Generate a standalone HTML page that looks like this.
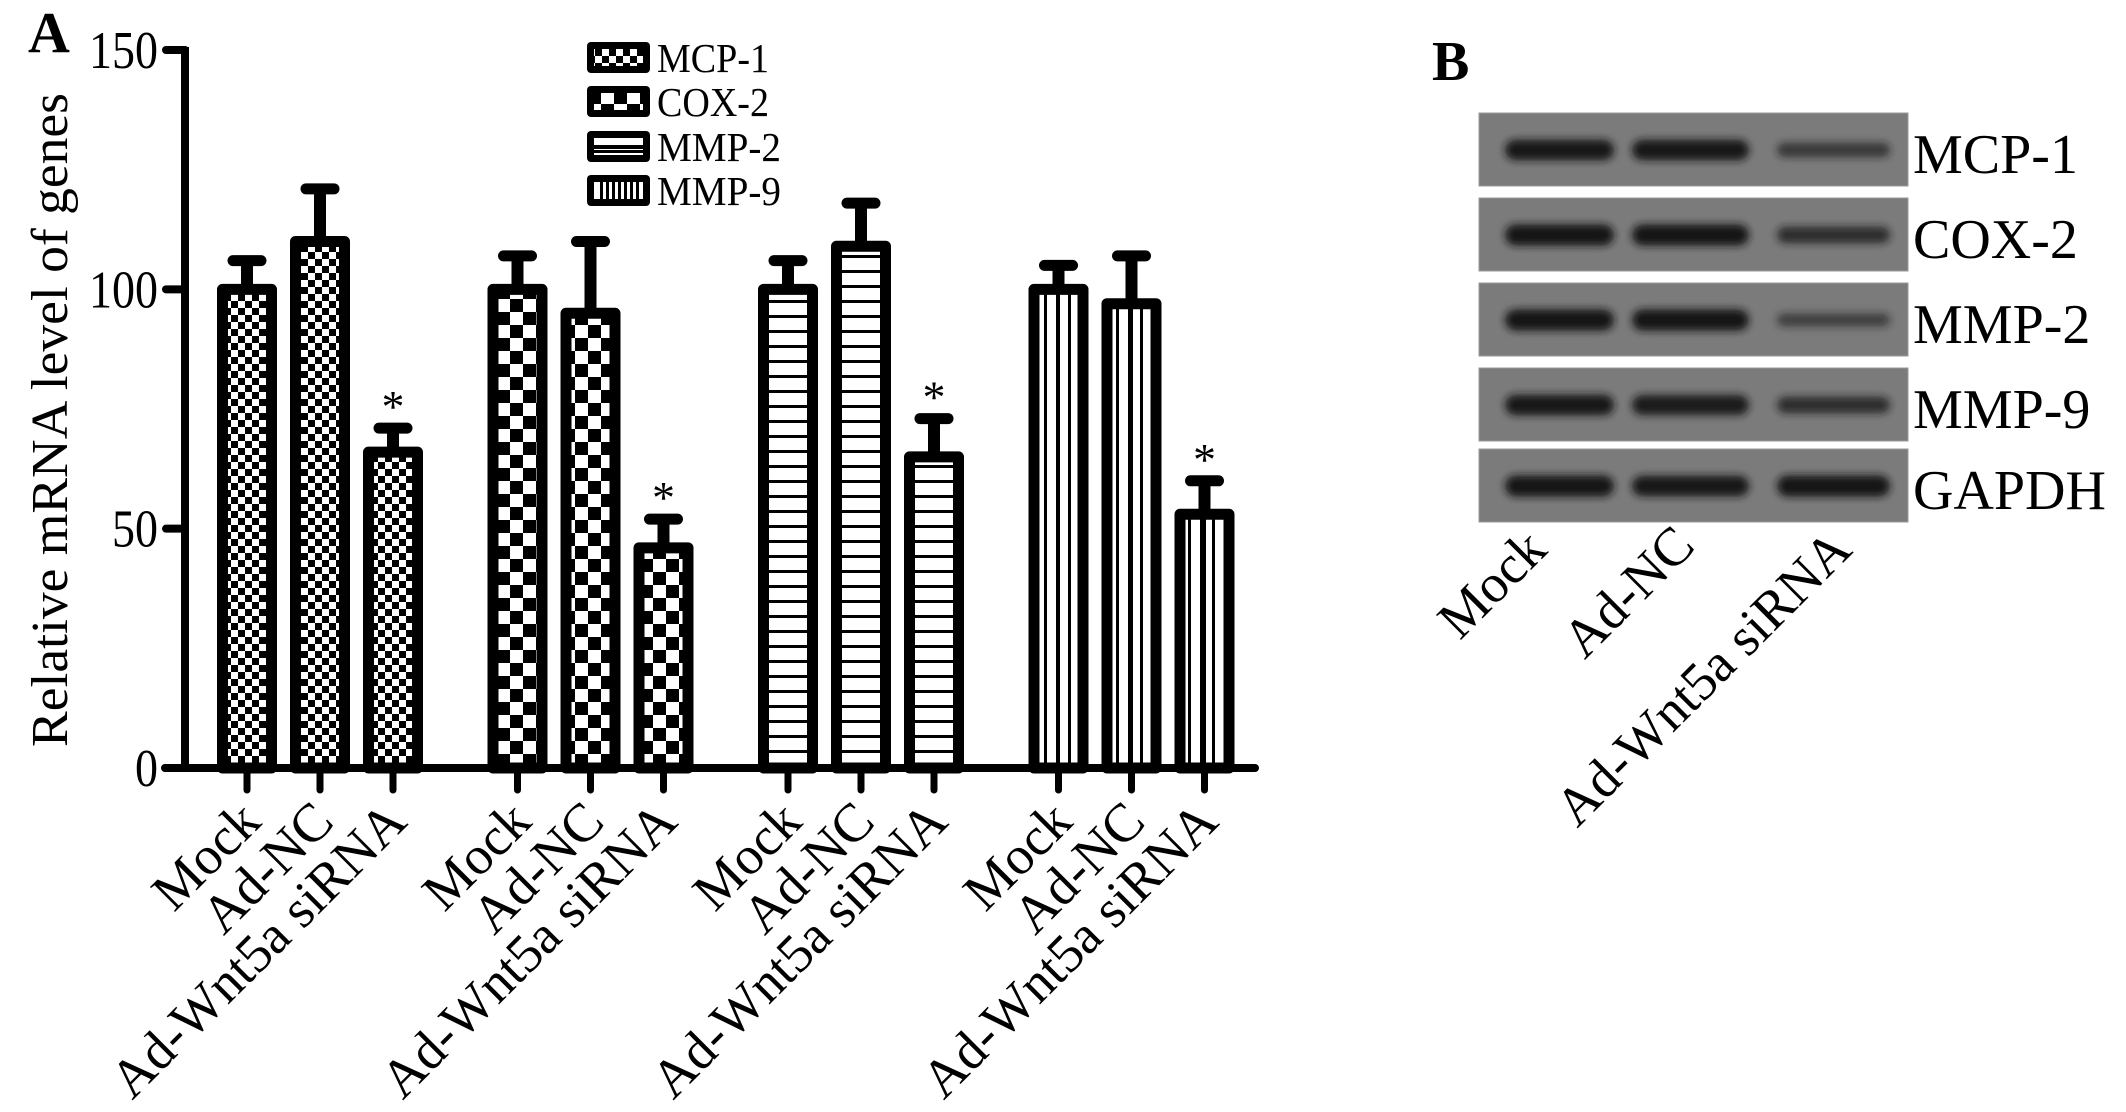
<!DOCTYPE html>
<html><head><meta charset="utf-8">
<style>
html,body{margin:0;padding:0;background:#fff;}
svg{display:block;font-family:"Liberation Serif",serif;}
</style></head>
<body>
<svg id="fig" width="2126" height="1112" viewBox="0 0 2126 1112" xmlns="http://www.w3.org/2000/svg">
<defs>
  <pattern id="p-mcp" patternUnits="userSpaceOnUse" width="14" height="14">
    <rect width="14" height="14" fill="#fff"/><rect width="7" height="7" fill="#000"/><rect x="7" y="7" width="7" height="7" fill="#000"/>
  </pattern>
  <pattern id="p-cox" patternUnits="userSpaceOnUse" width="26" height="26" x="3">
    <rect width="26" height="26" fill="#fff"/><rect width="13" height="13" fill="#000"/><rect x="13" y="13" width="13" height="13" fill="#000"/>
  </pattern>
  <pattern id="p-mmp2" patternUnits="userSpaceOnUse" width="10" height="15">
    <rect width="10" height="15" fill="#fff"/><rect y="0" width="10" height="3" fill="#000"/>
  </pattern>
  <pattern id="p-mmp9" patternUnits="userSpaceOnUse" width="12" height="10">
    <rect width="12" height="10" fill="#fff"/><rect x="0" width="3" height="10" fill="#000"/>
  </pattern>
  <filter id="blur" x="-20%" y="-100%" width="140%" height="300%"><feGaussianBlur stdDeviation="4"/></filter>
</defs>
<g id="chartA"></g>
<g id="panelB"></g>
</svg>
<script>
const genes = ["MCP-1","COX-2","MMP-2","MMP-9"];
const groups = ["Mock","Ad-NC","Ad-Wnt5a siRNA"];
const mcp1 = [100, 110, 66];
const cox2 = [100, 95, 46];
const mmp2 = [100, 109, 65];
const mmp9 = [100, 97, 53];
const mcp1Err = [6, 11, 5];
const cox2Err = [7, 15, 6];
const mmp2Err = [6, 9, 8];
const mmp9Err = [5, 10, 7];
const significant = [false, false, true];
const yTicks = [0, 50, 100, 150];
const blotRows = ["MCP-1","COX-2","MMP-2","MMP-9","GAPDH"];
const bandMock = [0.9, 0.95, 0.95, 0.9, 0.95];
const bandNC = [0.9, 0.95, 0.95, 0.85, 0.9];
const bandSi = [0.45, 0.6, 0.35, 0.6, 0.95];

const NS = "http://www.w3.org/2000/svg";
function mk(tag, attrs, parent, text){
  const e = document.createElementNS(NS, tag);
  for (const k in attrs) e.setAttribute(k, attrs[k]);
  if (text !== undefined) e.textContent = text;
  parent.appendChild(e);
  return e;
}
const A = document.getElementById("chartA");
const y0 = 768, y150 = 50;
const yS = v => y0 - (y0 - y150) * v / 150;
const xS = (g, i) => 247 + g * 270.5 + i * 73;

// panel label
let t = mk("text", {x:28, y:52, "font-size":58, "font-weight":"bold"}, A, "A");



// y axis title
t = mk("text", {x:0, y:0, "font-size":52, "text-anchor":"middle", textLength:654, lengthAdjust:"spacingAndGlyphs", transform:"translate(67,420) rotate(-90)"}, A, "Relative mRNA level of genes");



// axes
let ax = mk("line", {x1:185, y1:yS(150)-3, x2:185, y2:y0+3, stroke:"#000", "stroke-width":8}, A);


ax = mk("line", {x1:165, y1:y0, x2:1255, y2:y0, stroke:"#000", "stroke-width":8, "stroke-linecap":"round"}, A);



yTicks.forEach(v => {
  const tk = mk("line", {x1:166, y1:yS(v), x2:185, y2:yS(v), stroke:"#000", "stroke-width":8, "stroke-linecap":"round"}, A);
  
  
  const lb = mk("text", {x:158, y:yS(v)+18, "font-size":53, "text-anchor":"end", textLength: String(v).length*23, lengthAdjust:"spacingAndGlyphs"}, A, String(v));
  
  
});

const series = [mcp1, cox2, mmp2, mmp9];
const errs = [mcp1Err, cox2Err, mmp2Err, mmp9Err];
const pats = ["p-mcp","p-cox","p-mmp2","p-mmp9"];
const bw = 49;
series.forEach((vals, g) => {
  vals.forEach((v, i) => {
    const cx = xS(g, i);
    const top = yS(v), errTop = yS(v + errs[g][i]);
    const stem = mk("line", {x1:cx, y1:top, x2:cx, y2:errTop, stroke:"#000", "stroke-width":12}, A);
    
    
    const cap = mk("line", {x1:cx-14, y1:errTop, x2:cx+14, y2:errTop, stroke:"#000", "stroke-width":11, "stroke-linecap":"round"}, A);
    
    
    const r = mk("rect", {x:cx-bw/2, y:top, width:bw, height:y0-top, fill:"url(#"+pats[g]+")", stroke:"#000", "stroke-width":11, "stroke-linejoin":"round"}, A);
    
    
    if (g === 3) {
      const ml = mk("line", {x1:cx, y1:top+5, x2:cx, y2:y0-4, stroke:"#000", "stroke-width":3}, A);
      
      
    }
    if (significant[i]) {
      const st = mk("text", {x:cx, y:errTop-6, "font-size":46, "text-anchor":"middle"}, A, "*");
      
      
    }
    const tk = mk("line", {x1:cx, y1:y0, x2:cx, y2:790, stroke:"#000", "stroke-width":7, "stroke-linecap":"round"}, A);
    
    
    const lb = mk("text", {x:0, y:0, "font-size":54, "text-anchor":"end", transform:"translate("+(cx+16)+",824) rotate(-45)"}, A, groups[i]);
    
    
  });
});

// legend
const legTop = [42, 86, 131, 175];
genes.forEach((gname, k) => {
  const gy = legTop[k];
  const lg = mk("g", {}, A);
  
  
  mk("rect", {x:587, y:gy, width:63, height:31, rx:4, fill:"#000"}, lg);
  mk("rect", {x:594, y:gy+7, width:49, height:17, fill:"url(#"+pats[k]+")"}, lg);
  if (k === 2) mk("rect", {x:594, y:gy+14, width:49, height:4, fill:"#000"}, lg);
  if (k === 3) { [606,618,630].forEach(xx => mk("rect", {x:xx, y:gy+7, width:3, height:17, fill:"#000"}, lg)); }
  mk("text", {x:657, y:gy+30, "font-size":41, textLength:[112,112,124,124][k], lengthAdjust:"spacingAndGlyphs"}, lg, gname);
});

// Panel B
const B = document.getElementById("panelB");
t = mk("text", {x:1432, y:80, "font-size":56, "font-weight":"bold"}, B, "B");


const rowTop = [113, 198, 283, 368, 449];
const laneX = [[1505,1614],[1632,1749],[1777,1890]];
const bandLanes = [bandMock, bandNC, bandSi];
blotRows.forEach((name, r) => {
  const ry = rowTop[r];
  const strip = mk("rect", {x:1479, y:ry, width:429, height:73, fill:"#7b7b7b", stroke:"#9a9a9a", "stroke-width":1}, B);
  
  
  bandLanes.forEach((arr, l) => {
    const s = arr[r];
    const h = 8 + 14 * s;
    const band = mk("rect", {x:laneX[l][0], y:ry+37-h/2, width:laneX[l][1]-laneX[l][0], height:h, rx:h/2, fill:"#161616", opacity:Math.min(1, 0.35 + 0.7*s), filter:"url(#blur)"}, B);
    
    
  });
  const lb = mk("text", {x:1913, y:ry+60, "font-size":56}, B, name);
  
  
});
const blotLaneEnd = [[1549,552],[1697,548],[1854,552]];
groups.forEach((gname, l) => {
  const lb = mk("text", {x:0, y:0, "font-size":54, "text-anchor":"end", transform:"translate("+blotLaneEnd[l][0]+","+blotLaneEnd[l][1]+") rotate(-45)"}, B, gname);
  
  
});
</script>
</body></html>
